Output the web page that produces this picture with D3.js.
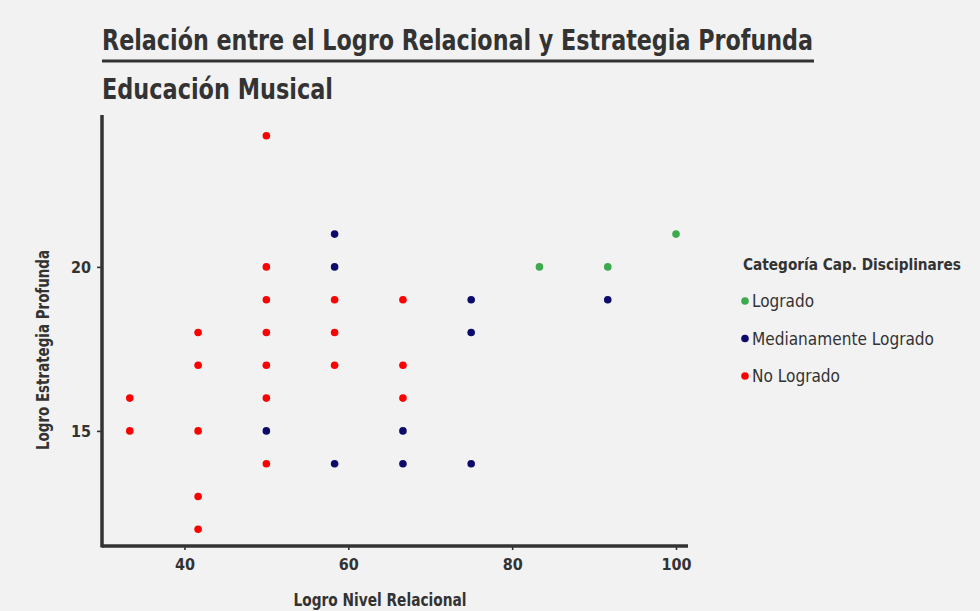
<!DOCTYPE html>
<html><head><meta charset="utf-8">
<script src="https://cdn.jsdelivr.net/npm/d3@7"></script>
<style>
html,body{margin:0;padding:0;background:#f2f2f2;}
svg{display:block;}
text{font-family:"DejaVu Sans","Liberation Sans",sans-serif;font-stretch:condensed;fill:#333;}
</style></head>
<body>
<svg id="c" width="980" height="611"></svg>
<script>
const xValues   = [33.33,33.33, 41.67,41.67,41.67,41.67,41.67, 50,50,50,50,50,50,50,50, 58.33,58.33,58.33,58.33,58.33,58.33, 66.67,66.67,66.67,66.67,66.67, 75,75,75, 83.33, 91.67,91.67, 100];
const yValues   = [16,15, 18,17,15,13,12, 24,20,19,18,17,16,15,14, 21,20,19,18,17,14, 19,17,16,15,14, 19,18,14, 20, 20,19, 21];
const groups    = ["N","N", "N","N","N","N","N", "N","N","N","N","N","N","M","N", "M","M","N","N","N","M", "N","N","N","M","M", "M","M","M", "L", "L","M", "L"];
const categories = ["Logrado","Medianamente Logrado","No Logrado"];
const categoryKeys = ["L","M","N"];
const colors = ["#3daa50","#0c0a6b","#ff0000"];
const xTicks = [40,60,80,100];
const yTicks = [15,20];

const svg = d3.select("#c");
svg.append("rect").attr("width",980).attr("height",611).attr("fill","#f2f2f2");

const x = d3.scaleLinear().domain([30,100]).range([102.5,676]);
const y = d3.scaleLinear().domain([11.4,24.6]).range([549,116]);
const color = d3.scaleOrdinal().domain(categoryKeys).range(colors);

// title
const t = svg.append("text").attr("x",102).attr("y",50).attr("font-size",28).attr("font-weight","bold")
  .text("Relación entre el Logro Relacional y Estrategia Profunda");
t.attr("textLength",711).attr("lengthAdjust","spacingAndGlyphs");
svg.append("line").attr("x1",102).attr("x2",814).attr("y1",61).attr("y2",61).attr("stroke","#333").attr("stroke-width",3);
svg.append("text").attr("x",102).attr("y",99).attr("font-size",28).attr("font-weight","bold")
  .attr("textLength",231).attr("lengthAdjust","spacingAndGlyphs").text("Educación Musical");

// axes
const gx = svg.append("g").attr("transform","translate(0,546)")
  .call(d3.axisBottom(x).tickValues(xTicks).tickSize(4).tickPadding(9).tickFormat(d3.format("d")));
const gy = svg.append("g").attr("transform","translate(102,0)")
  .call(d3.axisLeft(y).tickValues(yTicks).tickSize(5).tickPadding(6).tickFormat(d3.format("d")));
[gx,gy].forEach(g=>{
  g.select(".domain").remove();
  g.selectAll(".tick line").attr("stroke","#333").attr("stroke-width",1.6);
  g.selectAll(".tick text").attr("font-size",16).attr("font-weight","bold").style("fill","#333")
    .style("font-family","DejaVu Sans").style("font-stretch","condensed");
});
svg.append("line").attr("x1",102).attr("x2",688).attr("y1",546).attr("y2",546).attr("stroke","#333").attr("stroke-width",3.5);
svg.append("line").attr("x1",102).attr("x2",102).attr("y1",115).attr("y2",547.5).attr("stroke","#333").attr("stroke-width",3.5);

// axis titles
svg.append("text").attr("x",380).attr("y",606).attr("text-anchor","middle").attr("font-size",17).attr("font-weight","bold")
  .attr("textLength",173).attr("lengthAdjust","spacingAndGlyphs").text("Logro Nivel Relacional");
svg.append("text").attr("transform","translate(49,350) rotate(-90)").attr("text-anchor","middle").attr("font-size",17).attr("font-weight","bold")
  .attr("textLength",200).attr("lengthAdjust","spacingAndGlyphs").text("Logro Estrategia Profunda");

// points
const data = xValues.map((v,i)=>({x:v,y:yValues[i],g:groups[i]}));
svg.append("g").selectAll("circle").data(data).join("circle")
  .attr("cx",d=>x(d.x)).attr("cy",d=>y(d.y)).attr("r",3.8).attr("fill",d=>color(d.g));

// legend
svg.append("text").attr("x",743).attr("y",270).attr("font-size",16.5).attr("font-weight","bold")
  .attr("textLength",218).attr("lengthAdjust","spacingAndGlyphs").text("Categoría Cap. Disciplinares");
const lg = svg.append("g").selectAll("g").data(categories).join("g")
  .attr("transform",(d,i)=>`translate(0,${301+i*37.5})`);
lg.append("circle").attr("cx",745).attr("cy",0).attr("r",3.8).attr("fill",(d,i)=>colors[i]);
const lw = [62,182,88];
lg.append("text").attr("x",752).attr("y",6).attr("font-size",17.5)
  .attr("textLength",(d,i)=>lw[i]).attr("lengthAdjust","spacingAndGlyphs").text(d=>d);
</script>
</body></html>
